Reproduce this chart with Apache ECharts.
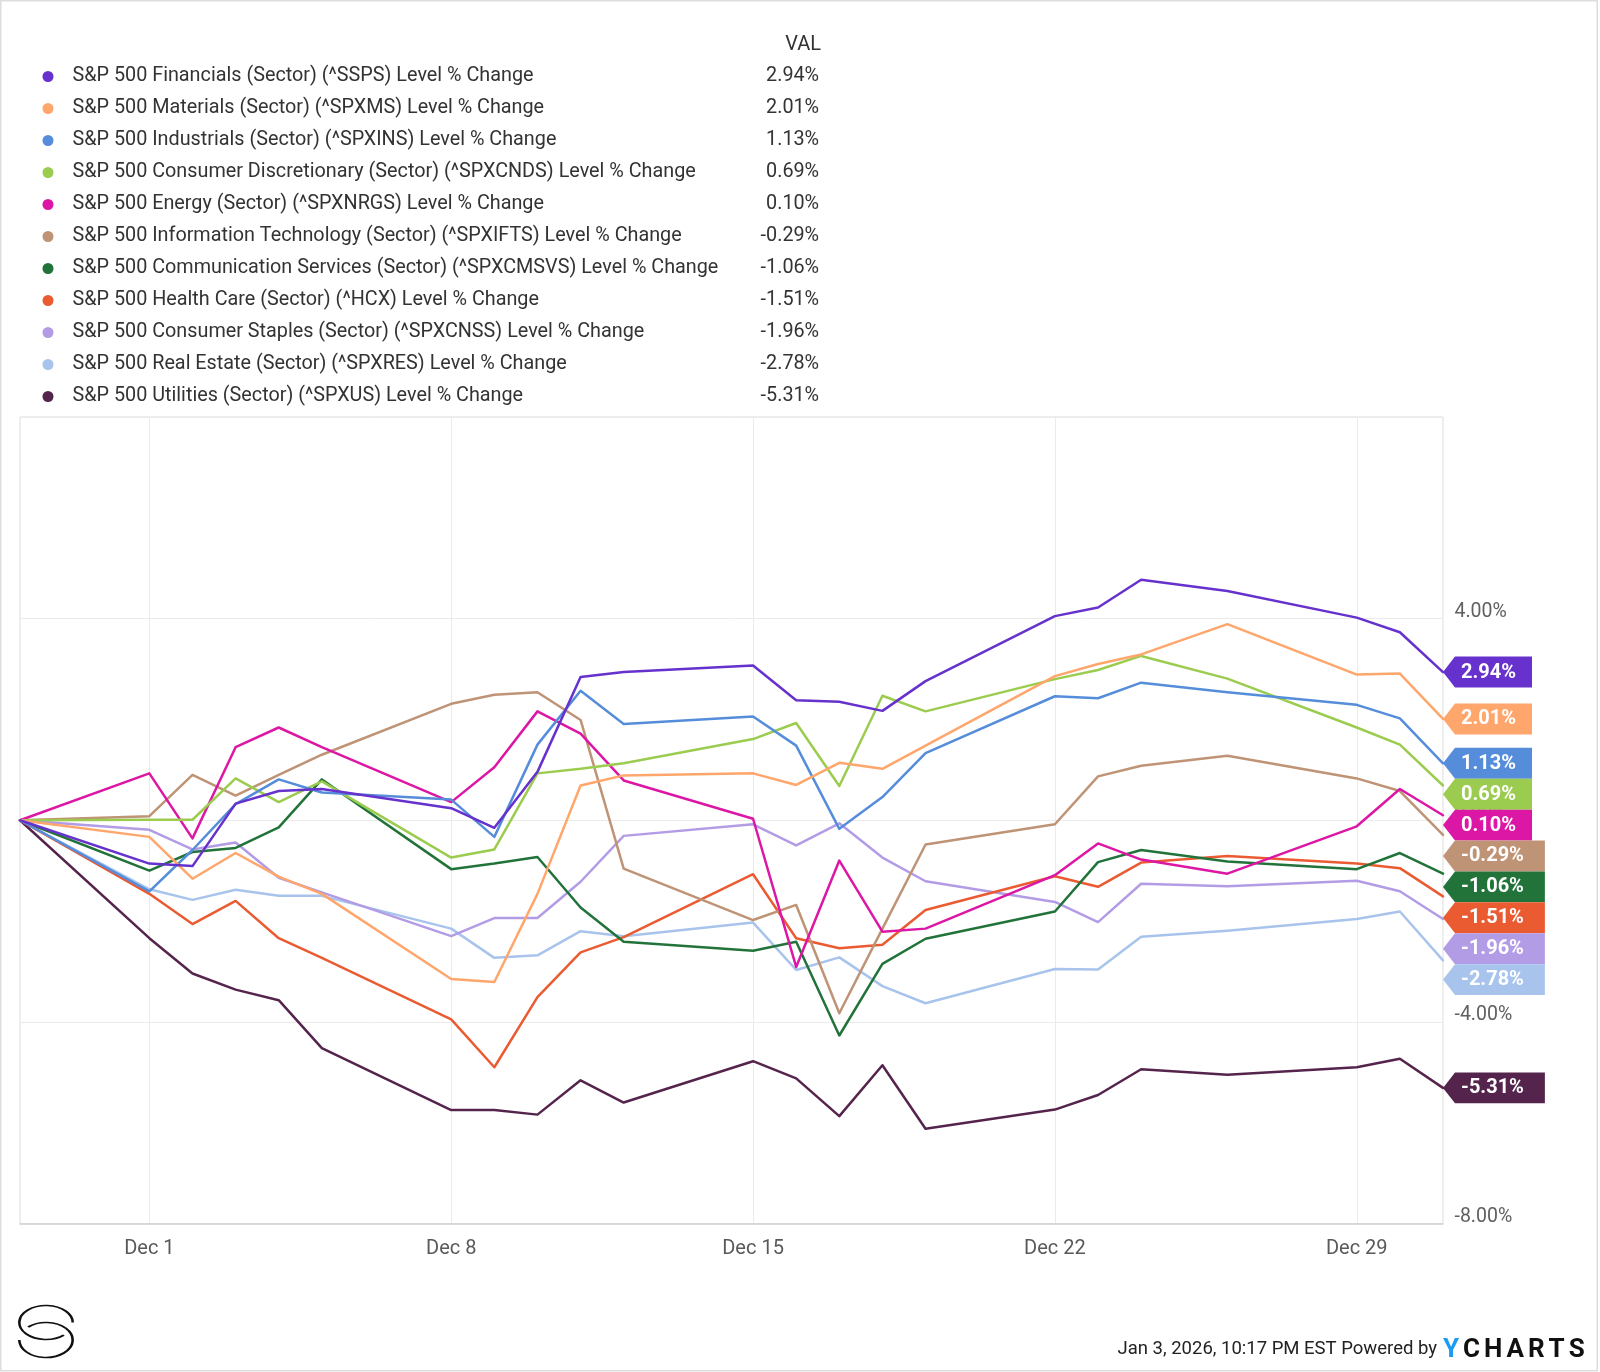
<!DOCTYPE html>
<html>
<head>
<meta charset="utf-8">
<script src="https://cdn.jsdelivr.net/npm/echarts@6/dist/echarts.min.js"></script>
<style>
html,body{margin:0;padding:0;background:#fff;}
#chart{width:1600px;height:1372px;}
</style>
</head>
<body>
<div id="chart"></div>
<script>
// ---------------- DATA ----------------
const dates = ['2025-11-28','2025-12-01','2025-12-02','2025-12-03','2025-12-04','2025-12-05',
  '2025-12-08','2025-12-09','2025-12-10','2025-12-11','2025-12-12',
  '2025-12-15','2025-12-16','2025-12-17','2025-12-18','2025-12-19',
  '2025-12-22','2025-12-23','2025-12-24','2025-12-26',
  '2025-12-29','2025-12-30','2025-12-31'];

const xTickDates = ['2025-12-01','2025-12-08','2025-12-15','2025-12-22','2025-12-29'];
const xTickLabels = ['Dec 1','Dec 8','Dec 15','Dec 22','Dec 29'];
const yTicks = [-8, -4, 0, 4, 8];

const seriesNames = [
  'S&P 500 Financials (Sector) (^SSPS) Level % Change',
  'S&P 500 Materials (Sector) (^SPXMS) Level % Change',
  'S&P 500 Industrials (Sector) (^SPXINS) Level % Change',
  'S&P 500 Consumer Discretionary (Sector) (^SPXCNDS) Level % Change',
  'S&P 500 Energy (Sector) (^SPXNRGS) Level % Change',
  'S&P 500 Information Technology (Sector) (^SPXIFTS) Level % Change',
  'S&P 500 Communication Services (Sector) (^SPXCMSVS) Level % Change',
  'S&P 500 Health Care (Sector) (^HCX) Level % Change',
  'S&P 500 Consumer Staples (Sector) (^SPXCNSS) Level % Change',
  'S&P 500 Real Estate (Sector) (^SPXRES) Level % Change',
  'S&P 500 Utilities (Sector) (^SPXUS) Level % Change'
];

const financials  = [0, -0.86, -0.91, 0.33, 0.58, 0.62, 0.24, -0.15, 0.96, 2.84, 2.94, 3.07, 2.38, 2.35, 2.17, 2.76, 4.05, 4.22, 4.77, 4.55, 4.02, 3.73, 2.94];
const materials   = [0, -0.33, -1.16, -0.65, -1.12, -1.46, -3.15, -3.21, -1.46, 0.69, 0.89, 0.93, 0.70, 1.14, 1.02, 1.48, 2.86, 3.10, 3.29, 3.89, 2.89, 2.91, 2.01];
const industrials = [0, -1.41, -0.59, 0.32, 0.81, 0.55, 0.41, -0.33, 1.50, 2.57, 1.91, 2.06, 1.48, -0.17, 0.46, 1.33, 2.46, 2.42, 2.73, 2.54, 2.29, 2.02, 1.13];
const consDisc    = [0, 0.01, 0.01, 0.83, 0.36, 0.77, -0.74, -0.58, 0.93, 1.02, 1.13, 1.61, 1.93, 0.68, 2.47, 2.16, 2.80, 2.98, 3.26, 2.81, 1.84, 1.50, 0.69];
const energy      = [0, 0.93, -0.36, 1.45, 1.84, 1.45, 0.36, 1.05, 2.16, 1.72, 0.79, 0.03, -2.91, -0.80, -2.21, -2.15, -1.09, -0.46, -0.78, -1.06, -0.12, 0.62, 0.10];
const infoTech    = [0, 0.08, 0.90, 0.49, 0.90, 1.30, 2.31, 2.49, 2.54, 1.99, -0.96, -1.98, -1.68, -3.83, -2.15, -0.48, -0.08, 0.87, 1.08, 1.28, 0.83, 0.58, -0.29];
const commServ    = [0, -1.00, -0.63, -0.55, -0.14, 0.81, -0.97, -0.86, -0.73, -1.73, -2.41, -2.59, -2.41, -4.27, -2.85, -2.35, -1.81, -0.83, -0.59, -0.82, -0.97, -0.65, -1.06];
const healthCare  = [0, -1.46, -2.06, -1.60, -2.34, -2.73, -3.95, -4.90, -3.51, -2.62, -2.32, -1.07, -2.34, -2.54, -2.47, -1.78, -1.11, -1.32, -0.84, -0.71, -0.86, -0.95, -1.51];
const consStaples = [0, -0.19, -0.58, -0.44, -1.14, -1.43, -2.30, -1.94, -1.94, -1.22, -0.31, -0.08, -0.50, -0.06, -0.74, -1.21, -1.62, -2.02, -1.26, -1.31, -1.20, -1.41, -1.96];
const realEstate  = [0, -1.37, -1.58, -1.38, -1.50, -1.50, -2.15, -2.73, -2.68, -2.20, -2.30, -2.03, -2.97, -2.72, -3.29, -3.63, -2.95, -2.96, -2.31, -2.19, -1.96, -1.81, -2.78];
const utilities   = [0, -2.34, -3.04, -3.36, -3.57, -4.52, -5.75, -5.75, -5.84, -5.16, -5.60, -4.78, -5.12, -5.87, -4.86, -6.12, -5.74, -5.45, -4.94, -5.05, -4.90, -4.73, -5.31];

const seriesValues = [financials, materials, industrials, consDisc, energy, infoTech, commServ, healthCare, consStaples, realEstate, utilities];
const seriesColors = ['#6631cc','#ffa66c','#568ddb','#9bcc4f','#dd17a5','#bf9375','#22733a','#ea5b32','#b39ce6','#a8c4ec','#55244c'];

// ---------------- HELPERS ----------------
function dayIndex(s) {
  const p = s.split('-').map(Number);
  const b = dates[0].split('-').map(Number);
  return Math.round((Date.UTC(p[0], p[1]-1, p[2]) - Date.UTC(b[0], b[1]-1, b[2])) / 86400000);
}
const xs = dates.map(dayIndex);
const xTickVals = xTickDates.map(dayIndex);
const fmtPct = v => v.toFixed(2) + '%';
const lastVals = {};
seriesNames.forEach((n, i) => { lastVals[n] = fmtPct(seriesValues[i][seriesValues[i].length - 1]); });

const FONT = 'Roboto';

const chart = echarts.init(document.getElementById('chart'), null, {renderer: 'canvas'});

const option = {
  animation: false,
  backgroundColor: '#ffffff',
  textStyle: {fontFamily: FONT},
  grid: {
    left: 20, right: 157, top: 417, bottom: 148.5,
    show: true, borderColor: '#dddddd', borderWidth: 1,
    containLabel: false, outerBoundsMode: 'none'
  },
  legend: {
    orient: 'vertical',
    left: 37.5, top: 60.5,
    itemWidth: 11, itemHeight: 11, itemGap: 10,
    icon: 'circle',
    selectedMode: false,
    data: seriesNames,
    formatter: name => '{n|' + name + '}{v|' + lastVals[name] + '}',
    textStyle: {
      fontFamily: FONT, fontSize: 19.8, color: '#333333', lineHeight: 22,
      padding: [0, 0, 0, 14],
      rich: {
        n: {fontFamily: FONT, fontSize: 19.8, color: '#333333', width: 646.6, lineHeight: 22},
        v: {fontFamily: FONT, fontSize: 19.8, color: '#333333', width: 100, align: 'right', lineHeight: 22}
      }
    }
  },
  xAxis: {
    type: 'value',
    min: xs[0], max: xs[xs.length - 1],
    axisLine: {show: true, onZero: false, lineStyle: {color: '#cfcfcf', width: 1.5}},
    axisTick: {show: false, customValues: xTickVals},
    splitLine: {show: true, lineStyle: {color: '#ebebeb', width: 1}},
    axisLabel: {
      customValues: xTickVals,
      margin: 15.5,
      color: '#595959', fontSize: 20, fontFamily: FONT,
      formatter: v => { const k = xTickVals.indexOf(v); return k >= 0 ? xTickLabels[k] : ''; }
    }
  },
  yAxis: {
    type: 'value',
    position: 'right',
    min: yTicks[0], max: yTicks[yTicks.length - 1], interval: 4,
    axisLine: {show: false},
    axisTick: {show: false},
    splitLine: {show: true, lineStyle: {color: '#ebebeb', width: 1}},
    axisLabel: {
      margin: 11.5, color: '#606060', fontSize: 19.5, fontFamily: FONT,
      verticalAlign: 'bottom', lineHeight: 13,
      formatter: v => (v === yTicks[yTicks.length - 1] ? '' : v.toFixed(2) + '%')
    }
  },
  series: seriesNames.map((name, i) => ({
    name: name,
    type: 'line',
    data: xs.map((x, j) => [x, seriesValues[i][j]]),
    showSymbol: false,
    symbol: 'none',
    color: seriesColors[i],
    lineStyle: {width: 2.5, color: seriesColors[i], join: 'round', cap: 'round'},
    emphasis: {disabled: true},
    silent: true,
    z: 2 + (seriesNames.length - i) * 0.01
  }))
};

chart.setOption(option);

// ---------------- END LABELS (stacked, arrow boxes) ----------------
const measureCtx = document.createElement('canvas').getContext('2d');
measureCtx.font = 'bold 20px ' + FONT;

const BOX_H = 30.9;
const labelItems = seriesNames.map((name, i) => {
  const vals = seriesValues[i];
  const last = vals[vals.length - 1];
  const px = chart.convertToPixel({gridIndex: 0}, [xs[xs.length - 1], last]);
  return {i, text: fmtPct(last), x: px[0], y: px[1], color: seriesColors[i]};
}).sort((a, b) => a.y - b.y);

let lastBottom = -Infinity;
labelItems.forEach(it => {
  let top = it.y - BOX_H / 2;
  if (top < lastBottom) top = lastBottom;
  it.top = top;
  lastBottom = top + BOX_H;
});

const graphics = [];
labelItems.forEach(it => {
  const tw = measureCtx.measureText(it.text).width;
  const tip = it.x;
  const top = it.top, bot = it.top + BOX_H, cy = it.top + BOX_H / 2;
  const right = tip + 18 + tw + (it.text.charAt(0) === '-' ? 21 : 16);
  graphics.push({
    type: 'polygon', z: 100, silent: true,
    shape: {points: [[tip, cy], [tip + 12, top], [right, top], [right, bot], [tip + 12, bot]]},
    style: {fill: it.color}
  });
  graphics.push({
    type: 'text', z: 101, silent: true,
    style: {text: it.text, x: tip + 18, y: cy + 0.5, fill: '#ffffff', font: 'bold 20px ' + FONT,
            align: 'left', verticalAlign: 'middle'}
  });
});

// Legend header
graphics.push({
  type: 'text', z: 100, silent: true,
  style: {text: 'VAL', x: 821, y: 45, fill: '#333333', font: '20px ' + FONT, align: 'right', verticalAlign: 'middle'}
});

// Footer
graphics.push({
  type: 'text', z: 100, silent: true,
  style: {text: 'Jan 3, 2026, 10:17 PM EST Powered by', x: 1437, y: 1349, fill: '#222222',
          font: '18.5px ' + FONT, align: 'right', verticalAlign: 'middle'}
});
graphics.push({
  type: 'text', z: 100, silent: true,
  style: {
    text: '{y|Y}{c|C}{c|H}{c|A}{c|R}{c|T}{e|S}',
    x: 1443, y: 1350, align: 'left', verticalAlign: 'middle',
    rich: {
      y: {fill: '#1b9cf2', font: 'bold 26px ' + FONT, padding: [0, 4, 0, 0]},
      c: {fill: '#111111', font: 'bold 26px ' + FONT, padding: [0, 4, 0, 0]},
      e: {fill: '#111111', font: 'bold 26px ' + FONT}
    }
  }
});

// Logo (two interlocking ellipses)
graphics.push({
  type: 'arc', z: 100, silent: true, x: 46, y: 1322.5, scaleY: 17 / 26.7,
  shape: {cx: 0, cy: 0, r: 26.7, startAngle: 48 * Math.PI / 180, endAngle: 2 * Math.PI, clockwise: true},
  style: {stroke: '#111111', fill: null, lineWidth: 2.6, strokeNoScale: true}
});
graphics.push({
  type: 'arc', z: 100, silent: true, x: 46, y: 1340, scaleY: 17.5 / 26.7,
  shape: {cx: 0, cy: 0, r: 26.7, startAngle: 228 * Math.PI / 180, endAngle: 540 * Math.PI / 180, clockwise: true},
  style: {stroke: '#111111', fill: null, lineWidth: 2.6, strokeNoScale: true}
});

// Outer frame
graphics.push({
  type: 'rect', z: 100, silent: true,
  shape: {x: 0.75, y: 0.75, width: 1596.5, height: 1370},
  style: {stroke: '#dddddd', fill: null, lineWidth: 1.5}
});

chart.setOption({graphic: {elements: graphics}});
</script>
</body>
</html>
